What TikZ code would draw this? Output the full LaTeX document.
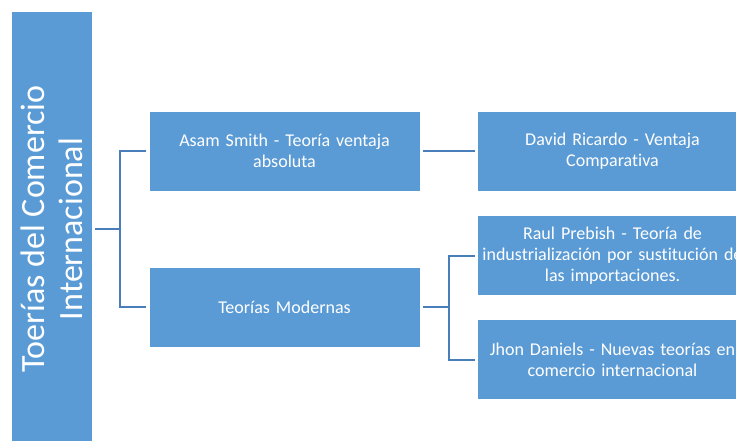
\documentclass[tikz,border=0pt]{standalone}
\usepackage{fontspec}
\setmainfont{Carlito}[Ligatures=NoCommon]
\definecolor{boxblue}{HTML}{5B9BD5}
\definecolor{linkblue}{HTML}{4A7EBB}
\newcommand{\zline}[1]{\makebox[0pt]{#1}}
\begin{document}
\begin{tikzpicture}[x=1pt,y=-1pt,
  box/.style={draw=white,line width=0.6pt,fill=boxblue,minimum width=271pt,minimum height=80pt,
    text=white,align=center,text width=265pt,font=\fontsize{18}{21}\selectfont,inner sep=0pt},
  link/.style={draw=linkblue,line width=2pt}]
\clip (0,0) rectangle (736,441);
\useasboundingbox (0,0) rectangle (736,441);
\node[draw=white,line width=0.6pt,fill=boxblue,minimum width=81pt,minimum height=431pt,inner sep=0pt,anchor=north west] (root) at (11,11) {};
\node[rotate=90,text=white,align=center,font=\fontsize{34}{38}\selectfont] (roottext) at (51.5,229) {Toerías del Comercio\\Internacional};
\node[box] (smith) at (284.5,151) {Asam Smith - Teoría ventaja\\absoluta};
\node[box] (mod) at (284.5,307) {Teorías Modernas};
\node[box] (ricardo) at (612.5,151) {David Ricardo - Ventaja\\Comparativa};
\node[box] (prebish) at (612.5,255.5) {\zline{Raul Prebish - Teoría de}\\\zline{industrialización por sustitución de}\\\zline{las importaciones.}};
\node[box] (daniels) at (612.5,359.5) {\zline{Jhon Daniels - Nuevas teorías en}\\\zline{comercio internacional}};
\coordinate (rootout) at (95,229);
\draw[link] (rootout) -- (120,229) |- ([xshift=-3pt]smith.west);
\draw[link] (120,229) |- ([xshift=-3pt]mod.west);
\draw[link] ([xshift=3pt]smith.east) -- ([xshift=-2pt]ricardo.west);
\draw[link] ([xshift=3pt]mod.east) -- (449,307) |- ([xshift=-2pt]prebish.west);
\draw[link] (449,307) |- ([xshift=-2pt]daniels.west);
\end{tikzpicture}
\end{document}
